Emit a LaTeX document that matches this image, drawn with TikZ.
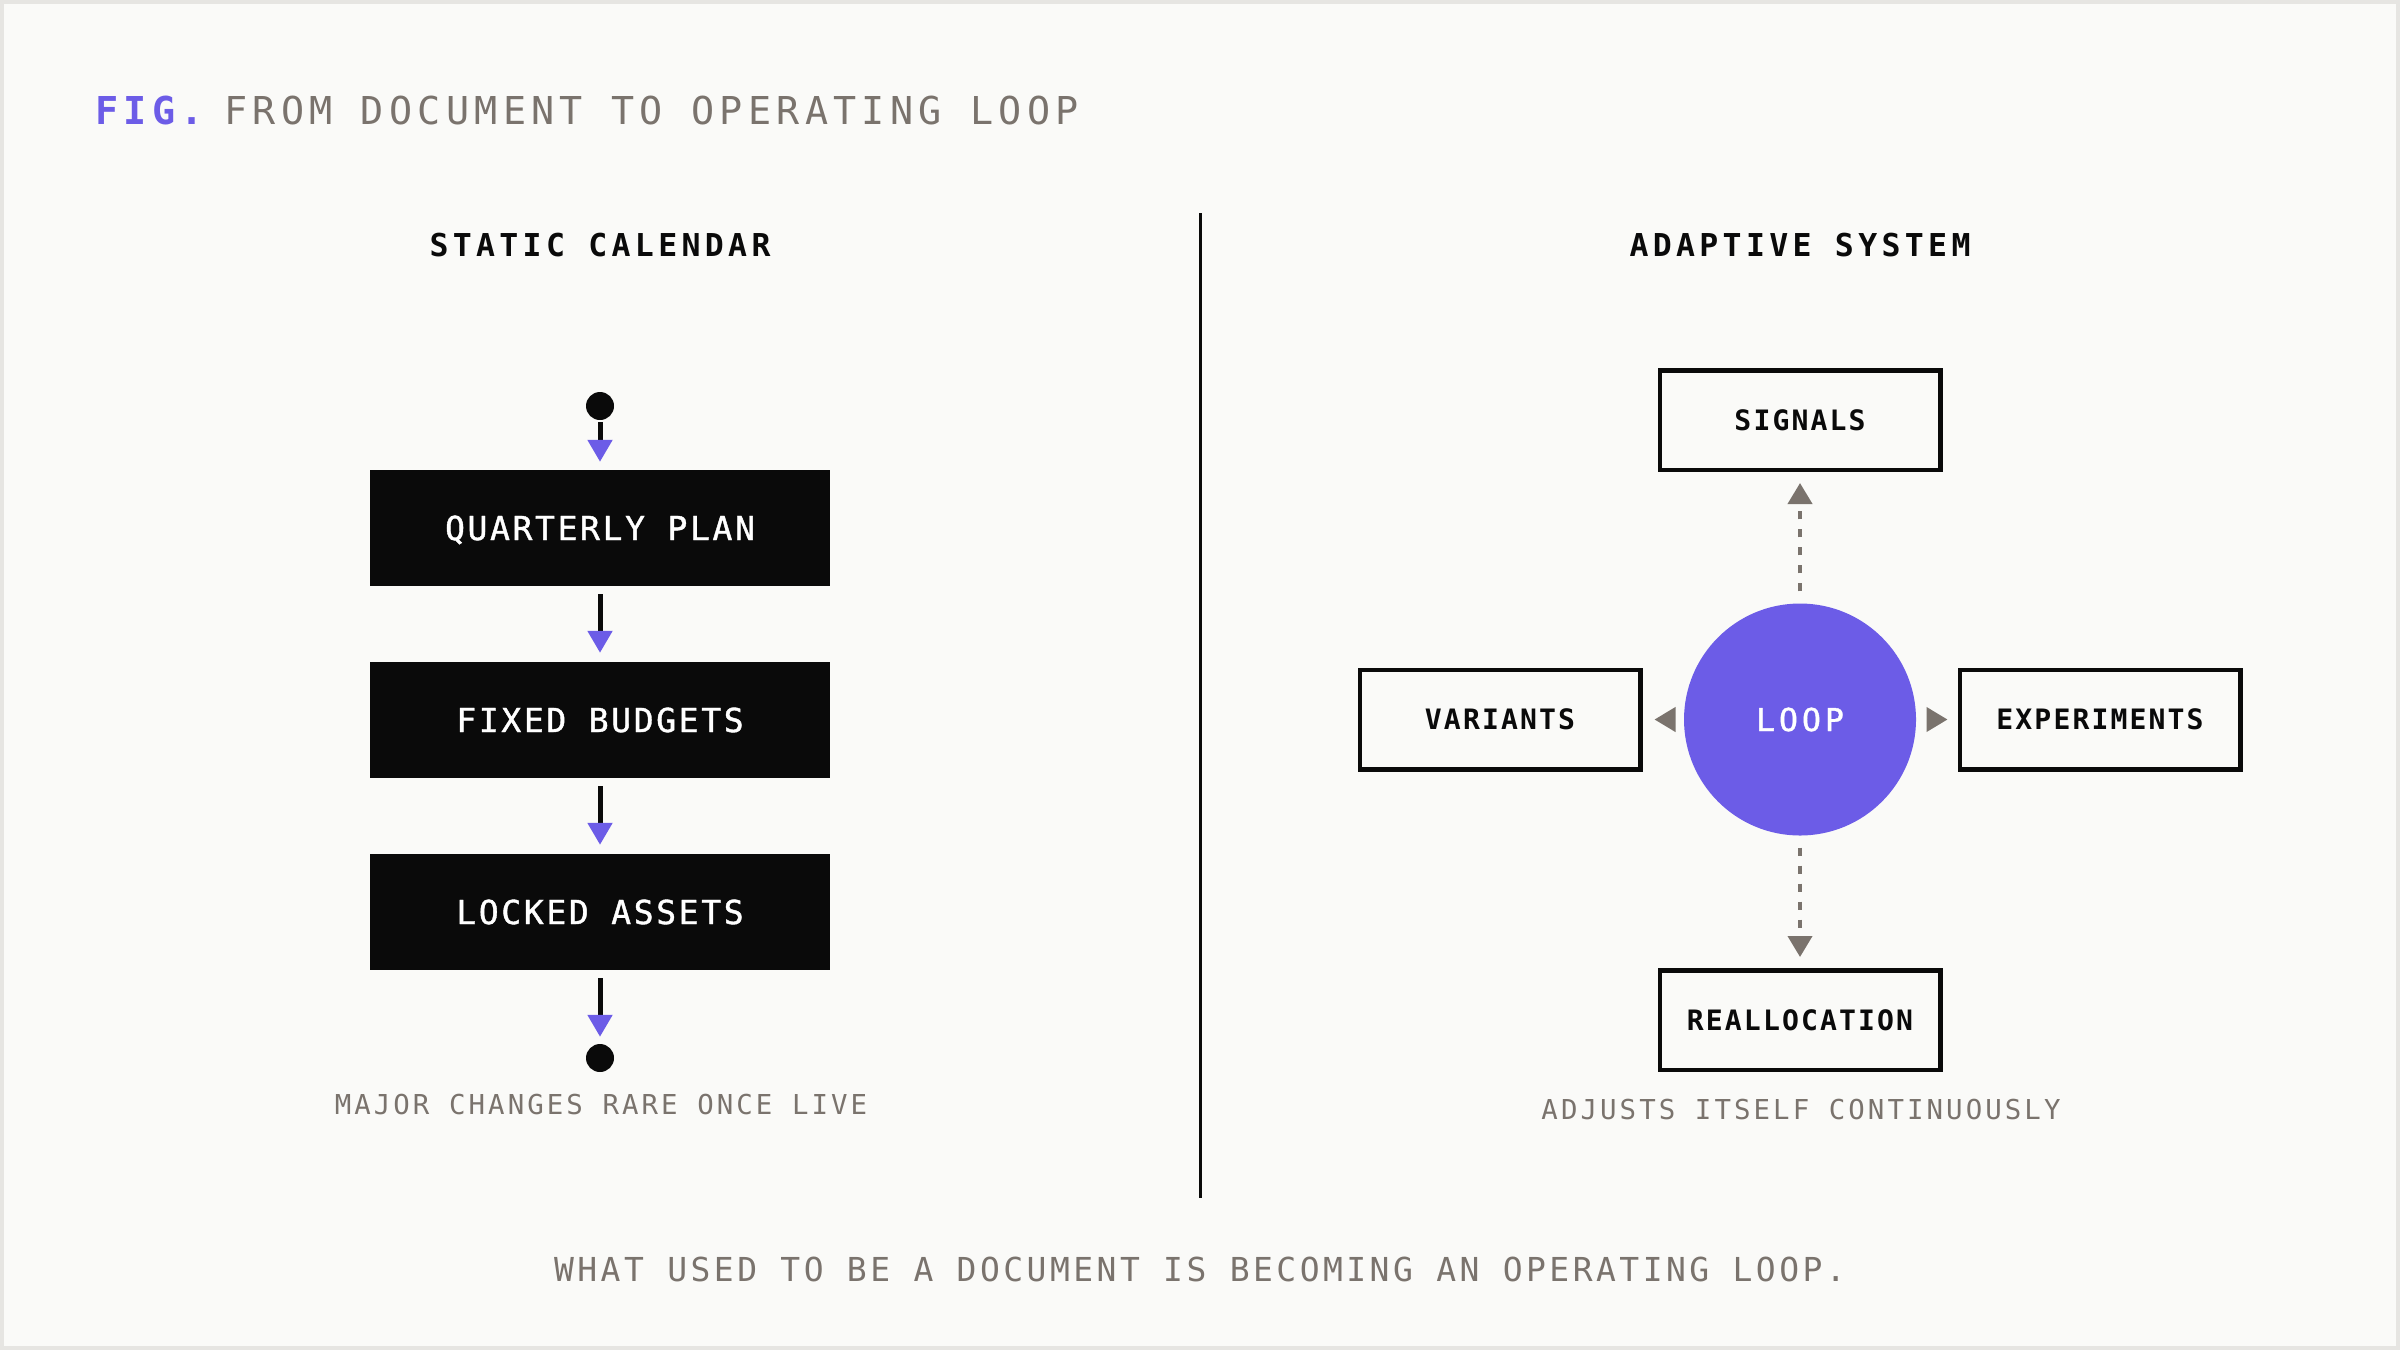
\documentclass[tikz,border=0pt]{standalone}
\usepackage{fontspec}
\usetikzlibrary{arrows.meta}
\definecolor{bg}{HTML}{FAFAF8}
\definecolor{frame}{HTML}{E6E5E2}
\definecolor{ink}{HTML}{0A0A0A}
\definecolor{accent}{HTML}{6C5CE7}
\definecolor{warm}{HTML}{7A736D}
\newfontfamily\ffTitle{DejaVu Sans Mono}[LetterSpace=13.8]
\newfontfamily\ffHead{DejaVu Sans Mono}[LetterSpace=13.8]
\newfontfamily\ffLBox{DejaVu Sans Mono}[LetterSpace=8, FakeBold=1.2]
\newfontfamily\ffRBox{DejaVu Sans Mono}[LetterSpace=7.5]
\newfontfamily\ffLoop{DejaVu Sans Mono}[LetterSpace=12.7, FakeBold=1.2]
\newfontfamily\ffCap{DejaVu Sans Mono}[LetterSpace=11.2]
\newfontfamily\ffFoot{DejaVu Sans Mono}[LetterSpace=10.5]
\newcommand\fzTitle{\ffTitle\fontsize{38.4}{46}\selectfont}
\newcommand\fzHead{\ffHead\bfseries\fontsize{31.5}{38}\selectfont}
\newcommand\fzLBox{\ffLBox\fontsize{33}{40}\selectfont}
\newcommand\fzRBox{\ffRBox\bfseries\fontsize{28.1}{34}\selectfont}
\newcommand\fzLoop{\ffLoop\fontsize{31.5}{38}\selectfont}
\newcommand\fzCap{\ffCap\fontsize{27.4}{33}\selectfont}
\newcommand\fzFoot{\ffFoot\fontsize{33}{40}\selectfont}
\tikzset{
  lbox/.style={fill=ink, minimum width=460pt, minimum height=116pt, inner sep=0pt,
    text=white, font=\fzLBox, text height=24pt, text depth=0pt},
  rbox/.style={draw=ink, line width=4.5pt, fill=bg, minimum width=280.5pt, minimum height=99.5pt,
    inner sep=0pt, text=ink, font=\fzRBox, text height=20.5pt, text depth=0pt},
  dotn/.style={circle, fill=ink, minimum size=28pt, inner sep=0pt},
  loopn/.style={circle, fill=accent, minimum size=232pt, inner sep=0pt, text=white,
    font=\fzLoop, text height=23pt, text depth=0pt},
  flow/.style={draw=ink, line width=5pt, -{Triangle[length=22pt,width=24pt,color=accent]},
    shorten >=8pt, shorten <=8pt},
  fb/.style={draw=warm, line width=4pt, dash pattern=on 8pt off 10pt,
    -{Triangle[length=21pt,width=24pt,color=warm]}, shorten <=12pt, shorten >=11pt},
  txt/.style={inner sep=0pt, anchor=base},
}
\begin{document}
\begin{tikzpicture}[x=1pt,y=-1pt]
\useasboundingbox (0,0) rectangle (2400,1350);
\fill[frame] (0,0) rectangle (2400,1350);
\fill[bg] (4,4) rectangle (2396,1346);

% title
\node[txt, anchor=base west, text=accent, font=\fzTitle\bfseries] (fig) at (95,124) {FIG.};
\node[txt, anchor=base west, text=warm, font=\fzTitle] (title) at (224,124) {FROM DOCUMENT TO OPERATING LOOP};

% headers
\node[txt, text=ink, font=\fzHead] (h1) at (600,256) {STATIC CALENDAR};
\node[txt, text=ink, font=\fzHead] (h2) at (1800,256) {ADAPTIVE SYSTEM};

% divider
\coordinate (dtop) at (1200,213);
\coordinate (dbot) at (1200,1198);
\draw[ink, line width=3pt] (dtop) -- (dbot);

% left flow
\node[dotn] (d1) at (600,406) {};
\node[lbox] (q) at (600,528) {QUARTERLY PLAN};
\node[lbox] (f) at (600,720) {FIXED BUDGETS};
\node[lbox] (l) at (600,912) {LOCKED ASSETS};
\node[dotn] (d2) at (600,1058) {};
\draw[flow, shorten <=2pt] (d1) -- (q);
\draw[flow, shorten >=9pt] (q) -- (f);
\draw[flow, shorten >=9pt] (f) -- (l);
\draw[flow, shorten >=7pt] (l) -- (d2);
\node[txt, text=warm, font=\fzCap] (c1) at (601,1114) {MAJOR CHANGES RARE ONCE LIVE};

% right system
\node[loopn] (loop) at (1800,719.5) {LOOP};
\node[rbox] (sig) at (1800,420) {SIGNALS};
\node[rbox] (var) at (1500,719.5) {VARIANTS};
\node[rbox] (exp) at (2100,719.5) {EXPERIMENTS};
\node[rbox] (rea) at (1800,1020) {REALLOCATION};
\draw[fb] (loop) -- (sig);
\draw[fb] (loop) -- (rea);
\draw[fb, shorten >=10pt] (loop) -- (exp);
\draw[fb, shorten >=12pt] (loop) -- (var);
\node[txt, text=warm, font=\fzCap] (c2) at (1801,1119) {ADJUSTS ITSELF CONTINUOUSLY};

% footer
\node[txt, text=warm, font=\fzFoot] (foot) at (1200,1281) {WHAT USED TO BE A DOCUMENT IS BECOMING AN OPERATING LOOP.};
\end{tikzpicture}
\end{document}
